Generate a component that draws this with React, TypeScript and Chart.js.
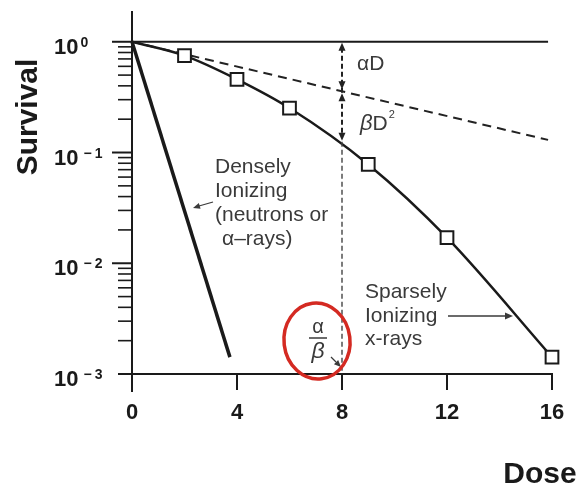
import { useEffect, useRef } from 'react';
import { Chart, registerables } from 'chart.js';

Chart.register(...registerables);

// ---- data ----
const doseTicks = [0, 4, 8, 12, 16];
const survivalDecades = [1, 0.1, 0.01, 0.001];
const decadeExponents = ['0', '−1', '−2', '−3'];
const minorMultipliers = [2, 3, 4, 5, 6, 7, 8, 9];

const xrayDose = [0, 2, 4, 6, 9, 12, 16];
const xraySurvival = [1, 0.75, 0.458, 0.252, 0.078, 0.017, 0.00142];

const neutronDose = [0, 3.73];
const neutronSurvival = [1, 0.00142];

const alphaDose = [0, 15.85];
const alphaSurvival = [1, 0.13];

const refDose = [0, 15.85];
const refSurvival = [1, 1];

const abDose = 8;
const abCurveSurvival = 0.125;

const FONT = '"Liberation Sans", Arial, Helvetica, sans-serif';
const INK = '#1a1a1a';
const TEXT = '#3a3a3a';

const pts = (xs: number[], ys: number[]) => xs.map((x, i) => ({ x, y: ys[i] }));

function arrowHead(ctx: CanvasRenderingContext2D, tx: number, ty: number, dx: number, dy: number, len = 8, half = 3.5) {
  const l = Math.hypot(dx, dy);
  const ux = dx / l, uy = dy / l;
  const bx = tx - ux * len, by = ty - uy * len;
  ctx.beginPath();
  ctx.moveTo(tx, ty);
  ctx.lineTo(bx - uy * half, by + ux * half);
  ctx.lineTo(bx + uy * half, by - ux * half);
  ctx.closePath();
  ctx.fill();
}

function seg(ctx: CanvasRenderingContext2D, x1: number, y1: number, x2: number, y2: number) {
  ctx.beginPath();
  ctx.moveTo(x1, y1);
  ctx.lineTo(x2, y2);
  ctx.stroke();
}

const decorPlugin = {
  id: 'decor',
  afterDraw(chart: any) {
    const ctx: CanvasRenderingContext2D = chart.ctx;
    const xs = chart.scales.x;
    const ys = chart.scales.y;
    const ca = chart.chartArea;
    const x0 = xs.getPixelForValue(0);
    const xEnd = xs.getPixelForValue(16);
    const yb = ys.getPixelForValue(0.001);

    ctx.save();
    ctx.strokeStyle = INK;
    ctx.fillStyle = INK;
    ctx.lineWidth = 2;
    ctx.lineCap = 'butt';

    // axes
    seg(ctx, x0, ca.top, x0, yb + 18);
    seg(ctx, x0 - 14, yb, xEnd, yb);

    // x ticks + labels
    ctx.font = `bold 22px ${FONT}`;
    ctx.textAlign = 'center';
    ctx.textBaseline = 'alphabetic';
    doseTicks.forEach((d) => {
      const px = xs.getPixelForValue(d);
      if (d > 0) seg(ctx, px, yb - 1, px, yb + 16);
      ctx.fillText(String(d), px, yb + 45);
    });

    // y ticks
    survivalDecades.forEach((v, i) => {
      const py = ys.getPixelForValue(v);
      if (i < survivalDecades.length - 1) seg(ctx, x0 - 20, py, x0, py);
      if (v < 1) {
        minorMultipliers.forEach((m) => {
          const my = ys.getPixelForValue(v * m);
          ctx.lineWidth = 1.6;
          seg(ctx, x0 - 14, my, x0, my);
          ctx.lineWidth = 2;
        });
      }
      // label 10^n
      const base = py + 12;
      ctx.textAlign = 'left';
      ctx.font = `bold 22px ${FONT}`;
      ctx.fillText('10', 54, base);
      const w = ctx.measureText('10').width;
      ctx.font = `bold 14px ${FONT}`;
      const e = decadeExponents[i];
      if (e.startsWith('−')) {
        ctx.fillText('−', 54 + w + 5, base - 7);
        const mw = ctx.measureText('−').width;
        ctx.fillText(e.slice(1), 54 + w + 5 + mw + 3, base - 7);
      } else {
        ctx.fillText(e, 54 + w + 2, base - 7);
      }
    });

    // axis titles
    ctx.font = `bold 30px ${FONT}`;
    ctx.textAlign = 'center';
    ctx.fillText('Dose', 540, 483);
    ctx.save();
    ctx.translate(37, 117);
    ctx.rotate(-Math.PI / 2);
    ctx.fillText('Survival', 0, 0);
    ctx.restore();

    // alpha/beta vertical reference line
    const xa = xs.getPixelForValue(abDose);
    const yTop = ys.getPixelForValue(1);
    const logA = Math.log10(alphaSurvival[1]) * (abDose / alphaDose[1]);
    const yA = ys.getPixelForValue(Math.pow(10, logA));
    const yS = ys.getPixelForValue(abCurveSurvival);
    ctx.strokeStyle = '#222';
    ctx.fillStyle = '#222';
    ctx.setLineDash([5, 3]);
    ctx.lineWidth = 2;
    seg(ctx, xa, yTop + 6, yA === 0 ? xa : xa, yS - 6);
    ctx.lineWidth = 1.4;
    ctx.strokeStyle = '#444';
    seg(ctx, xa, yS, xa, yb);
    ctx.setLineDash([]);
    arrowHead(ctx, xa, yTop + 1, 0, -1);
    arrowHead(ctx, xa, yA - 2, 0, 1);
    arrowHead(ctx, xa, yA + 2, 0, -1);
    arrowHead(ctx, xa, yS - 1, 0, 1);

    // annotation texts
    ctx.fillStyle = TEXT;
    ctx.strokeStyle = TEXT;
    ctx.textAlign = 'left';
    ctx.font = `21px ${FONT}`;
    ctx.fillText('αD', xa + 15, 70);
    ctx.font = `italic 22px ${FONT}`;
    ctx.fillText('β', xa + 18, 130);
    const bw = ctx.measureText('β').width;
    ctx.font = `21px ${FONT}`;
    ctx.fillText('D', xa + 18 + bw, 130);
    const dw = ctx.measureText('D').width;
    ctx.font = `11px ${FONT}`;
    ctx.fillText('2', xa + 19 + bw + dw, 118);

    ctx.font = `21px ${FONT}`;
    ctx.fillText('Densely', 215, 173);
    ctx.fillText('Ionizing', 215, 197);
    ctx.fillText('(neutrons or', 215, 221);
    ctx.fillText('α–rays)', 222, 245);
    ctx.lineWidth = 1.3;
    seg(ctx, 213, 202, 199, 206);
    arrowHead(ctx, 193, 208, -20, 6, 7, 3);

    ctx.fillText('Sparsely', 365, 298);
    ctx.fillText('Ionizing', 365, 322);
    ctx.fillText('x-rays', 365, 345);
    seg(ctx, 448, 316, 506, 316);
    arrowHead(ctx, 513, 316, 1, 0, 8, 3.5);

    // alpha / beta fraction
    ctx.textAlign = 'center';
    ctx.font = `20px ${FONT}`;
    ctx.fillText('α', 318, 333);
    ctx.lineWidth = 1.5;
    seg(ctx, 309, 338, 327, 338);
    ctx.font = `italic 23px ${FONT}`;
    ctx.fillText('β', 318, 358);
    ctx.lineWidth = 1.3;
    seg(ctx, 331, 357, 336, 362);
    arrowHead(ctx, 341, 367, 1, 1, 7, 3);

    // red circle
    ctx.strokeStyle = '#d42a22';
    ctx.lineWidth = 3.5;
    ctx.beginPath();
    ctx.ellipse(317, 341, 33, 38, -0.12, 0, Math.PI * 2);
    ctx.stroke();

    ctx.restore();
  },
};

export default function App() {
  const ref = useRef<HTMLCanvasElement | null>(null);

  useEffect(() => {
    if (!ref.current) return;
    const chart = new Chart(ref.current, {
      type: 'line',
      data: {
        datasets: [
          {
            data: pts(xrayDose, xraySurvival),
            borderColor: INK,
            borderWidth: 2.5,
            cubicInterpolationMode: 'monotone',
            pointStyle: 'rect',
            pointRadius: (c: any) => (c.dataIndex === 0 ? 0 : 9),
            pointBackgroundColor: '#ffffff',
            pointBorderColor: INK,
            pointBorderWidth: 2,
            clip: false as any,
          },
          {
            data: pts(refDose, refSurvival),
            borderColor: INK,
            borderWidth: 2,
            pointRadius: 0,
            clip: false as any,
          },
          {
            data: pts(alphaDose, alphaSurvival),
            borderColor: '#222',
            borderWidth: 2,
            borderDash: [9, 6],
            pointRadius: 0,
            clip: false as any,
          },
          {
            data: pts(neutronDose, neutronSurvival),
            borderColor: INK,
            borderWidth: 3.5,
            pointRadius: 0,
            clip: false as any,
          },
        ],
      },
      options: {
        animation: false,
        responsive: false,
        events: [],
        layout: { padding: { left: 132, right: 28, top: 8, bottom: 112 } },
        plugins: { legend: { display: false }, tooltip: { enabled: false } },
        scales: {
          x: { type: 'linear', min: 0, max: 16, display: false },
          y: { type: 'logarithmic', min: 0.001, max: 1.896, display: false },
        },
      },
      plugins: [decorPlugin],
    });
    return () => chart.destroy();
  }, []);

  return (
    <div style={{ position: 'fixed', left: 0, top: 0, width: 580, height: 486, background: '#fff' }}>
      <canvas ref={ref} width={580} height={486} />
    </div>
  );
}
